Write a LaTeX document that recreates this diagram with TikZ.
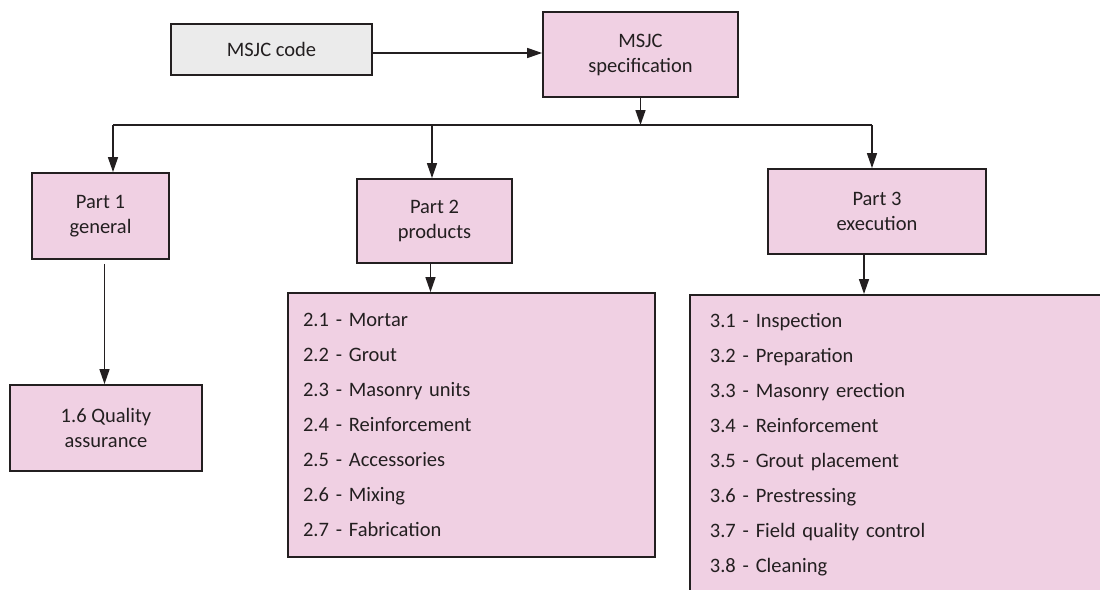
\documentclass[tikz,border=0pt]{standalone}
\usepackage{fontspec}
\setmainfont{Carlito}
\usetikzlibrary{arrows.meta}

\definecolor{boxpink}{RGB}{240,208,227}
\definecolor{boxgrey}{RGB}{235,235,235}
\definecolor{ink}{RGB}{35,31,32}

\tikzset{
  box/.style={draw=ink, line width=1.8pt, fill=boxpink, text=ink, align=center,
    inner sep=0pt, font=\fontsize{20.5}{25}\selectfont},
  listbox/.style={box, align=left, inner xsep=15pt, font=\fontsize{20.5}{35}\selectfont},
  wire/.style={draw=ink, line width=1.5pt},
  link/.style={wire, -{Triangle[length=15pt,width=10pt]}},
}

\begin{document}
\begin{tikzpicture}[x=1pt, y=-1pt]

\clip (0,0) rectangle (1100,589);

\node(code) at (271.5, 49.5) [box, fill=boxgrey, minimum width=201pt, minimum height=51pt] {MSJC code};
\node(spec) at (640.5, 54.5) [box, minimum width=195pt, minimum height=85pt] {MSJC\\specification};

\draw[link] ([yshift=-3.5pt]code.east) to ([yshift=-3.5pt]code.east -| spec.west);

% parts
\node(p1) at (100.5, 216) [box, minimum width=137pt, minimum height=86pt] {Part 1\\general};
\node(p2) at (434.5, 221) [box, minimum width=155pt, minimum height=84pt] {Part 2\\products};
\node(p3) at (877, 211.5) [box, minimum width=218pt, minimum height=85pt] {Part 3\\execution};

\coordinate(b1) at (113, 125);
\coordinate(b2) at (432, 125);
\coordinate(b3) at (872, 125);

\draw[link] (spec.south) to (spec.south |- b1);
\draw[wire] (b1) -- (b3);
\draw[link] (b1) to (b1 |- p1.north);
\draw[link] (b2) to (b2 |- p2.north);
\draw[link] (b3) to (b3 |- p3.north);

% sections
\node(qa) at (106, 428) [box, minimum width=192pt, minimum height=86pt] {1.6 Quality\\assurance};

\node(list2) at (471.5, 425) [listbox, text width=337pt, minimum height=264pt] {2.1 - Mortar\\2.2 - Grout\\2.3 - Masonry units\\2.4 - Reinforcement\\2.5 - Accessories\\2.6 - Mixing\\2.7 - Fabrication};

\node(list3) at (689, 294) [listbox, anchor=north west, inner xsep=20pt, text width=381pt, minimum height=299pt] {3.1 - Inspection\\3.2 - Preparation\\3.3 - Masonry erection\\3.4 - Reinforcement\\3.5 - Grout placement\\3.6 - Prestressing\\3.7 - Field quality control\\3.8 - Cleaning};

\draw[link, shorten <=4pt] ([xshift=4pt]p1.south) to ([xshift=4pt]p1.south |- qa.north);
\draw[link] ([xshift=-4pt]p2.south) to ([xshift=-4pt]p2.south |- list2.north);
\draw[link] ([xshift=-13pt]p3.south) to ([xshift=-13pt]p3.south |- list3.north);

\end{tikzpicture}
\end{document}
